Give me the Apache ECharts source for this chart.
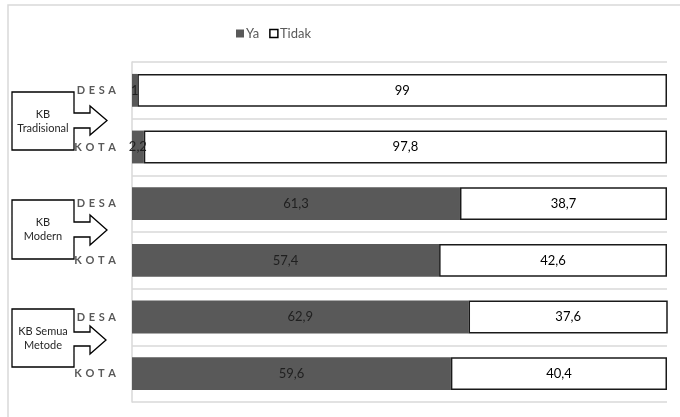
<!DOCTYPE html>
<html>
<head>
<meta charset="utf-8">
<script src="https://cdn.jsdelivr.net/npm/echarts@6/dist/echarts.min.js"></script>
<style>
  html, body { margin: 0; padding: 0; background: #fff; }
  #chart { width: 680px; height: 417px; }
</style>
</head>
<body>
<div id="chart"></div>
<script>
// Rows, top to bottom: KB Tradisional (Desa, Kota), KB Modern, KB Semua Metode
const categories = ['DESA', 'KOTA', 'DESA', 'KOTA', 'DESA', 'KOTA'];
const seriesNames = ['Ya', 'Tidak'];
const yaValues = [1, 2.2, 61.3, 57.4, 62.9, 59.6];
const tidakValues = [99, 97.8, 38.7, 42.6, 37.6, 40.4];
const groupNames = [['KB', 'Tradisional'], ['KB', 'Modern'], ['KB Semua', 'Metode']];

const FONT = 'Lato, "Open Sans", sans-serif';
const fmt = v => String(v).replace('.', ',');
const spaced = s => s.split('').join('\u2004');

// Block-arrow callout: a box whose right side turns into an arrow
function calloutShape(box, shaft, head, tipX) {
  const [l, t, r, b] = box;
  const [st, sb] = shaft;
  const [ht, hb] = head;
  const sx = r + 16;
  const mid = (ht + hb) / 2;
  return [[l, t], [r, t], [r, st], [sx, st], [sx, ht], [tipX, mid],
          [sx, hb], [sx, sb], [r, sb], [r, b], [l, b]];
}

const callouts = [
  { box: [12, 92, 74, 150], shaft: [113, 128], head: [106, 135], tip: 107 },
  { box: [12, 200, 74, 259], shaft: [222, 237], head: [215, 245], tip: 107 },
  { box: [12, 309, 74, 367], shaft: [332, 346], head: [326, 354], tip: 106 }
];

const graphics = [
  {
    type: 'rect', silent: true, z: -1,
    shape: { x: 8, y: 5, width: 700, height: 440 },
    style: { fill: '#fff', stroke: '#d9d9d9', lineWidth: 1.5 }
  }
];
callouts.forEach((c, i) => {
  graphics.push({
    type: 'polygon', silent: true,
    shape: { points: calloutShape(c.box, c.shaft, c.head, c.tip) },
    style: { fill: '#fff', stroke: '#000', lineWidth: 1.3 }
  });
  const cx = (c.box[0] + c.box[2]) / 2;
  const cy = (c.box[1] + c.box[3]) / 2;
  graphics.push({
    type: 'text', silent: true,
    x: cx, y: cy,
    style: {
      text: groupNames[i].join('\n'),
      font: '11px ' + FONT, fill: '#262626',
      align: 'center', verticalAlign: 'middle', lineHeight: 14
    }
  });
});

const chart = echarts.init(document.getElementById('chart'), null, { renderer: 'canvas' });
chart.setOption({
  animation: false,
  backgroundColor: '#fff',
  textStyle: { fontFamily: FONT },
  graphic: graphics,
  legend: {
    left: 231, top: 22,
    itemWidth: 8, itemHeight: 8, itemGap: 10,
    textStyle: { color: '#595959', fontSize: 13, fontFamily: FONT, padding: [0, 0, 0, -3] },
    data: [
      { name: seriesNames[0], icon: 'rect', itemStyle: { color: '#595959', borderWidth: 0 } },
      { name: seriesNames[1], icon: 'rect', itemStyle: { color: '#fff', borderColor: '#000', borderWidth: 1.5 } }
    ]
  },
  grid: { left: 132, right: 13, top: 62, bottom: 15, containLabel: false },
  xAxis: {
    type: 'value', min: 0, max: 100,
    axisLabel: { show: false }, axisLine: { show: false },
    axisTick: { show: false }, splitLine: { show: false }
  },
  yAxis: {
    type: 'category', inverse: true,
    data: categories,
    axisLine: { show: true, lineStyle: { color: '#d9d9d9', width: 1.5 } },
    axisTick: { show: false },
    splitLine: { show: true, lineStyle: { color: '#d9d9d9', width: 1.5 } },
    axisLabel: {
      margin: 16,
      formatter: v => spaced(v),
      color: '#595959', fontSize: 11, fontWeight: 'bold', fontFamily: FONT
    }
  },
  series: [
    {
      name: seriesNames[0], type: 'bar', stack: 'total',
      data: yaValues, barWidth: '58%',
      itemStyle: { color: '#595959' },
      label: {
        show: true, position: 'inside',
        formatter: p => fmt(p.value),
        color: '#1f1f1f', fontSize: 13, fontFamily: FONT
      }
    },
    {
      name: seriesNames[1], type: 'bar', stack: 'total',
      data: tidakValues, barWidth: '58%',
      itemStyle: { color: '#fff', borderColor: '#1a1a1a', borderWidth: 1.5 },
      label: {
        show: true, position: 'inside',
        formatter: p => fmt(p.value),
        color: '#000', fontSize: 13, fontFamily: FONT
      }
    }
  ]
});
</script>
</body>
</html>
